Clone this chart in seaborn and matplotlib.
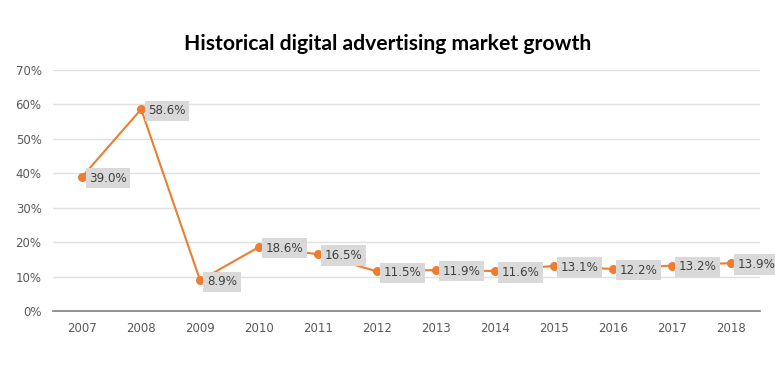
import matplotlib
matplotlib.use("Agg")
import matplotlib.pyplot as plt
import seaborn as sns
import pandas as pd
from matplotlib.ticker import PercentFormatter

years = ["2007", "2008", "2009", "2010", "2011", "2012", "2013", "2014", "2015", "2016", "2017", "2018"]
growth = [39.0, 58.6, 8.9, 18.6, 16.5, 11.5, 11.9, 11.6, 13.1, 12.2, 13.2, 13.9]
title = "Historical digital advertising market growth"

sns.set_style("white")
plt.rcParams["font.family"] = ["DejaVu Sans"]

df = pd.DataFrame({"year": years, "growth": growth})

fig = plt.figure(figsize=(7.75, 3.67), dpi=100)
ax = fig.add_axes([0.068, 0.1526, 0.913, 0.6567])

orange = "#ED7D31"
sns.lineplot(data=df, x="year", y="growth", ax=ax, color=orange, linewidth=1.5,
             marker="o", markersize=6.5, markeredgewidth=0, sort=False)

ax.set_xlim(-0.5, len(years) - 0.5)
ax.set_ylim(0, 70)
ax.set_yticks(range(0, 71, 10))
ax.yaxis.set_major_formatter(PercentFormatter(decimals=0))
ax.grid(axis="y", color="#e0e0e0", linewidth=1)
ax.set_axisbelow(True)
for s in ["left", "right", "top"]:
    ax.spines[s].set_visible(False)
ax.spines["bottom"].set_color("#808080")
ax.spines["bottom"].set_linewidth(1.2)
ax.tick_params(axis="both", length=0, labelsize=8.5, labelcolor="#595959", pad=8)
ax.set_xlabel("")
ax.set_ylabel("")

for i, v in enumerate(growth):
    ax.annotate(f"{v:.1f}%", xy=(i, v), xytext=(5, -1), textcoords="offset points",
                ha="left", va="center", fontsize=8.6, color="#404040",
                bbox=dict(boxstyle="square,pad=0.3", fc="#d9d9d9", ec="none"))

fig.text(0.5, 0.88, title, ha="center", va="center", fontsize=15.2, fontweight="bold",
         family=["Lato", "DejaVu Sans"], color="black")

fig.savefig("out.png", dpi=100, facecolor="white")
